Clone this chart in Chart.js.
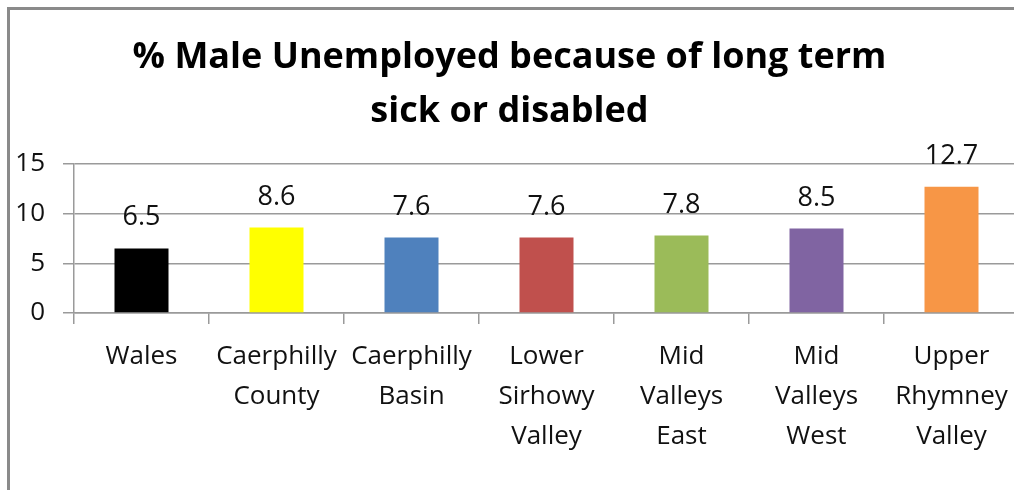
<!DOCTYPE html>
<html lang="en">
<head>
    <meta charset="UTF-8">
    <title>% Male Unemployed because of long term sick or disabled</title>
    <style>
        html, body {
            margin: 0;
            padding: 0;
            overflow: hidden;
            background: #fff;
        }
        .frame {
            position: absolute;
            left: 7px;
            top: 7px;
            width: 1100px;
            height: 600px;
            border: 3px solid #8a8a8a;
        }
        .chart-container {
            position: absolute;
            left: 0;
            top: 0;
            width: 1030px;
            height: 490px;
        }
    </style>
</head>
<body>
    <div class="frame"></div>
    <div class="chart-container">
        <canvas id="unemployedChart"></canvas>
    </div>

    <script src="https://cdn.jsdelivr.net/npm/chart.js"></script>
    <script>
        // chart data
        const categories = [
            ['Wales'],
            ['Caerphilly', 'County'],
            ['Caerphilly', 'Basin'],
            ['Lower', 'Sirhowy', 'Valley'],
            ['Mid', 'Valleys', 'East'],
            ['Mid', 'Valleys', 'West'],
            ['Upper', 'Rhymney', 'Valley']
        ];
        const values = [6.5, 8.6, 7.6, 7.6, 7.8, 8.5, 12.7];
        const barColours = ['#000000', '#ffff00', '#4f81bd', '#c0504d', '#9bbb59', '#8064a2', '#f79646'];
        const yTicks = [0, 5, 10, 15];

        const textColour = '#111';
        const gridColour = '#9a9a9a';

        // values above each bar, like Excel's "outside end" labels
        const valueLabels = {
            id: 'value-labels',
            afterDatasetsDraw: (chart) => {
                const ctx = chart.ctx;
                const meta = chart.getDatasetMeta(0);
                ctx.save();
                ctx.font = '27px "Open Sans"';
                ctx.fillStyle = textColour;
                ctx.textAlign = 'center';
                ctx.textBaseline = 'alphabetic';
                meta.data.forEach((bar, i) => {
                    ctx.fillText(values[i].toFixed(1), bar.x, bar.y - 23);
                });
                ctx.restore();
            }
        };

        const ctx = document.getElementById('unemployedChart').getContext('2d');

        const unemployedChart = new Chart(ctx, {
            type: 'bar',
            data: {
                labels: categories,
                datasets: [{
                    data: values,
                    backgroundColor: barColours,
                    borderWidth: 0,
                    barPercentage: 0.4,
                    categoryPercentage: 1
                }]
            },
            options: {
                responsive: true,
                maintainAspectRatio: false,
                animation: false,
                layout: {
                    padding: { left: 0, right: 11, top: 0, bottom: 0 }
                },
                plugins: {
                    legend: { display: false },
                    tooltip: { enabled: false },
                    title: {
                        display: true,
                        text: ['% Male Unemployed because of long term', 'sick or disabled'],
                        color: '#000',
                        font: { family: 'Open Sans', size: 36, weight: 'bold', lineHeight: 1.5 },
                        padding: { top: 31, bottom: 25 }
                    }
                },
                scales: {
                    x: {
                        grid: {
                            offset: true,
                            drawOnChartArea: false,
                            drawTicks: true,
                            tickLength: 11,
                            color: gridColour,
                            lineWidth: 1.5
                        },
                        border: { color: gridColour, width: 1.5 },
                        ticks: {
                            color: textColour,
                            font: { family: 'Open Sans', size: 26, lineHeight: 1.55 },
                            padding: 12,
                            maxRotation: 0,
                            autoSkip: false
                        },
                        afterFit: (scale) => { scale.height = 177; }
                    },
                    y: {
                        min: 0,
                        max: 15,
                        afterBuildTicks: (scale) => {
                            scale.ticks = yTicks.map(v => ({ value: v }));
                        },
                        grid: {
                            color: gridColour,
                            lineWidth: 1.5,
                            drawTicks: true,
                            tickLength: 11
                        },
                        border: { color: gridColour, width: 1.5 },
                        ticks: {
                            color: textColour,
                            font: { family: 'Open Sans', size: 26 },
                            padding: 18
                        },
                        afterFit: (scale) => { scale.width = 74; }
                    }
                }
            },
            plugins: [valueLabels]
        });
    </script>
</body>
</html>
